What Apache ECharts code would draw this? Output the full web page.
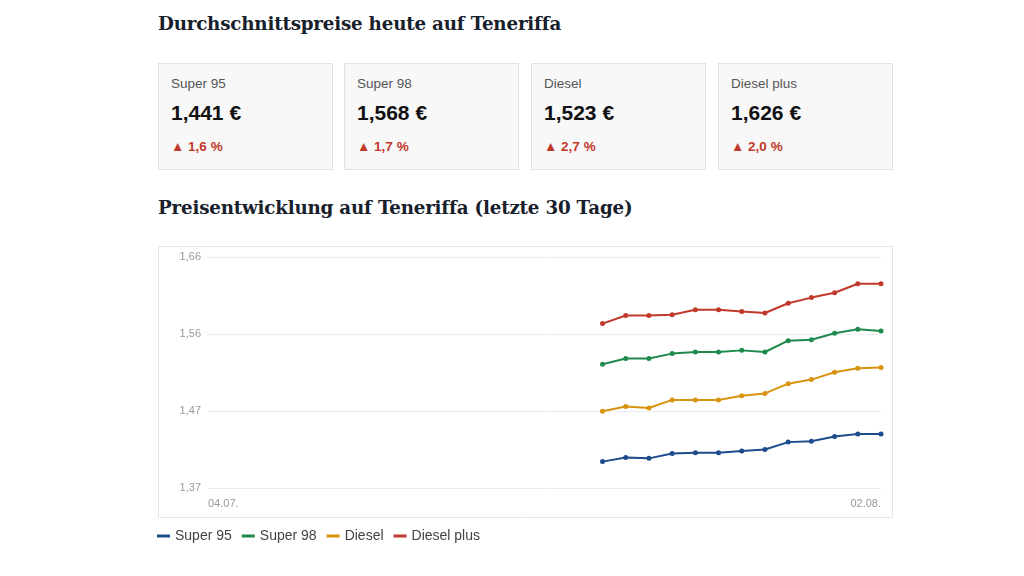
<!DOCTYPE html>
<html lang="de">
<head>
<meta charset="utf-8">
<title>Spritpreise Teneriffa</title>
<script src="https://cdn.jsdelivr.net/npm/echarts@6/dist/echarts.min.js"></script>
<style>
    body { margin: 0; background: #fff; font-family: "Liberation Sans", Arial, sans-serif; }
    #page { position: relative; width: 1024px; height: 576px; overflow: hidden; }
    h2 {
        position: absolute; left: 158px; margin: 0;
        font-family: "DejaVu Serif", "Liberation Serif", serif;
        font-size: 18.3px; font-weight: bold; color: #17202b; letter-spacing: -0.2px;
    }
    .card {
        position: absolute; top: 63px; width: 173px; height: 105px;
        background: #f8f8f8; border: 1px solid #e2e2e2;
    }
    .card .name { position: absolute; left: 12px; top: 12px; font-size: 13.5px; color: #555; }
    .card .price { position: absolute; left: 12px; top: 37px; font-size: 21px; font-weight: bold; color: #111; }
    .card .delta { position: absolute; left: 12px; top: 75px; font-size: 13.5px; font-weight: bold; color: #c0392b; }
    #chart { position: absolute; left: 150px; top: 240px; width: 760px; height: 320px; }
</style>
</head>
<body>
<div id="page">
    <h2 style="top:13px">Durchschnittspreise heute auf Teneriffa</h2>
    <div id="cards"></div>
    <h2 style="top:197px">Preisentwicklung auf Teneriffa (letzte 30 Tage)</h2>
    <div id="chart"></div>
</div>
<script>
// fuel types and today's numbers
const fuelNames = ["Super 95", "Super 98", "Diesel", "Diesel plus"];
const fuelColors = ["#1d4b8c", "#1f8a4c", "#d8930f", "#c0392b"];
const todayPrices = ["1,441 €", "1,568 €", "1,523 €", "1,626 €"];
const todayChanges = ["▲ 1,6 %", "▲ 1,7 %", "▲ 2,7 %", "▲ 2,0 %"];

// x axis: last 30 days
const days = [
    "04.07.", "05.07.", "06.07.", "07.07.", "08.07.", "09.07.", "10.07.", "11.07.", "12.07.", "13.07.",
    "14.07.", "15.07.", "16.07.", "17.07.", "18.07.", "19.07.", "20.07.", "21.07.", "22.07.", "23.07.",
    "24.07.", "25.07.", "26.07.", "27.07.", "28.07.", "29.07.", "30.07.", "31.07.", "01.08.", "02.08."
];
// only these days have prices
const priceDays = [
    "21.07.", "22.07.", "23.07.", "24.07.", "25.07.", "26.07.", "27.07.",
    "28.07.", "29.07.", "30.07.", "31.07.", "01.08.", "02.08."
];
const super95 = [1.407, 1.412, 1.411, 1.417, 1.418, 1.418, 1.420, 1.422, 1.431, 1.432, 1.438, 1.441, 1.441];
const super98 = [1.527, 1.534, 1.534, 1.540, 1.542, 1.542, 1.544, 1.542, 1.556, 1.557, 1.565, 1.570, 1.568];
const diesel = [1.469, 1.475, 1.473, 1.483, 1.483, 1.483, 1.488, 1.491, 1.503, 1.508, 1.517, 1.522, 1.523];
const dieselPlus = [1.577, 1.587, 1.587, 1.588, 1.594, 1.594, 1.592, 1.590, 1.602, 1.609, 1.615, 1.626, 1.626];

const yMin = 1.3745;
const yMax = 1.659;

function buildCards() {
    const holder = document.getElementById("cards");
    const lefts = [158, 344, 531, 718];
    fuelNames.forEach((name, i) => {
        let card = document.createElement("div");
        card.className = "card";
        card.style.left = lefts[i] + "px";
        card.innerHTML = `<div class="name">${name}</div>
            <div class="price">${todayPrices[i]}</div>
            <div class="delta">${todayChanges[i]}</div>`;
        holder.appendChild(card);
    });
}

function drawChart() {
    const chart = echarts.init(document.getElementById("chart"));
    const seriesValues = [super95, super98, diesel, dieselPlus];

    const option = {
        animation: false,
        textStyle: { fontFamily: "Liberation Sans, Arial, sans-serif" },
        graphic: [{
            type: "rect",
            shape: { x: 8.5, y: 6.5, width: 734, height: 271 },
            style: { fill: "#fff", stroke: "#e6e6e6", lineWidth: 1 },
            z: -1
        }],
        grid: { left: 58, right: 29, top: 17, bottom: 72 },
        legend: {
            left: 2, top: 284,
            icon: "rect", itemWidth: 13, itemHeight: 3, itemGap: 10,
            textStyle: { fontSize: 14, color: "#444" },
            data: fuelNames
        },
        xAxis: {
            type: "category",
            data: days,
            boundaryGap: false,
            axisLine: { show: false },
            axisTick: { show: false },
            axisLabel: {
                interval: (index) => index === 0 || index === days.length - 1,
                alignMinLabel: "left",
                alignMaxLabel: "right",
                color: "#999", fontSize: 11, margin: 10
            }
        },
        yAxis: {
            type: "value",
            min: yMin,
            max: yMax,
            interval: (yMax - yMin) / 3,
            axisLabel: {
                color: "#999", fontSize: 11, margin: 7,
                formatter: v => (v + 1e-9).toFixed(2).replace(".", ",")
            },
            splitLine: { lineStyle: { color: "#ececec" } }
        },
        series: fuelNames.map((name, i) => ({
            name: name,
            type: "line",
            data: priceDays.map((d, j) => [d, seriesValues[i][j]]),
            color: fuelColors[i],
            symbol: "circle",
            symbolSize: 5,
            lineStyle: { width: 2 }
        }))
    };

    chart.setOption(option);
}

buildCards();
drawChart();
</script>
</body>
</html>
